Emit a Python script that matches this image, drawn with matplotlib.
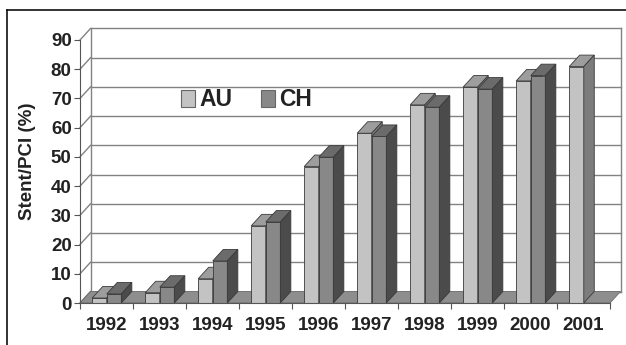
import matplotlib
matplotlib.use("Agg")
import matplotlib.pyplot as plt
from matplotlib.patches import Polygon, Patch
from matplotlib.lines import Line2D

plt.rcParams["font.family"] = ["Liberation Sans", "DejaVu Sans"]
plt.rcParams["font.weight"] = "bold"

# Share of PCI procedures with stent implantation, by year
years = ["1992", "1993", "1994", "1995", "1996", "1997", "1998", "1999", "2000", "2001"]
au = [1.7, 3.5, 8.3, 26.4, 46.7, 58.1, 67.8, 73.9, 76.0, 80.9]
ch = [3.1, 5.4, 14.4, 27.7, 49.9, 57.0, 67.0, 73.2, 77.8, None]
series_names = ["AU", "CH"]
y_ticks = [0, 10, 20, 30, 40, 50, 60, 70, 80, 90]

# face shades: (front, top, side)
shades = {
    "AU": ("#c3c3c3", "#9d9d9d", "#7c7c7c"),
    "CH": ("#888888", "#6b6b6b", "#4b4b4b"),
}
edge = "#3a3a3a"
wall_line = "#828282"
text_color = "#222222"

W, H = 626, 345
fig = plt.figure(figsize=(W / 100, H / 100), dpi=100)
fig.patch.set_facecolor("white")

# front plane of the plot box, in pixels
x0_px, x1_px = 80, 610
y0_px, y1_px = 303, 40
ax = fig.add_axes([x0_px / W, (H - y0_px) / H, (x1_px - x0_px) / W, (y0_px - y1_px) / H])
n = len(years)
ymax = y_ticks[-1]
ax.set_xlim(0, n)
ax.set_ylim(0, ymax)
ax.set_facecolor("none")

# depth offset of the 3-D box (pixels -> data units)
depth_px = (10.5, 11.5)
ddx = depth_px[0] / ((x1_px - x0_px) / n)
ddy = depth_px[1] / ((y0_px - y1_px) / ymax)

# back wall, side wall and gridlines
for v in y_ticks:
    ax.plot([ddx, n + ddx], [v + ddy, v + ddy], color=wall_line, lw=1.0, clip_on=False, zorder=1)
    ax.plot([0, ddx], [v, v + ddy], color=wall_line, lw=1.0, clip_on=False, zorder=1)
ax.plot([ddx, ddx], [ddy, ymax + ddy], color=wall_line, lw=1.0, clip_on=False, zorder=1)
ax.plot([n + ddx, n + ddx], [ddy, ymax + ddy], color=wall_line, lw=1.0, clip_on=False, zorder=1)

# floor
ax.add_patch(Polygon([(0, 0), (n, 0), (n + ddx, ddy), (ddx, ddy)], closed=True,
                     facecolor="#8e8e8e", edgecolor="#6a6a6a", lw=0.6, clip_on=False, zorder=2))

gap = 0.23
bw = 0.275


def draw_box(x, h, name, z):
    front, top, side = shades[name]
    kw = dict(closed=True, edgecolor=edge, lw=0.6, clip_on=False, zorder=z)
    ax.add_patch(Polygon([(x, 0), (x + bw, 0), (x + bw, h), (x, h)], facecolor=front, **kw))
    ax.add_patch(Polygon([(x, h), (x + bw, h), (x + bw + ddx, h + ddy), (x + ddx, h + ddy)],
                         facecolor=top, **kw))
    ax.add_patch(Polygon([(x + bw, 0), (x + bw + ddx, ddy), (x + bw + ddx, h + ddy), (x + bw, h)],
                         facecolor=side, **kw))


z = 3
for i in range(n):
    for k, vals in enumerate([au, ch]):
        if vals[i] is None:
            continue
        draw_box(i + gap + k * bw, vals[i], series_names[k], z)
        z += 1

# axes styling
for s in ["top", "right"]:
    ax.spines[s].set_visible(False)
ax.spines["left"].set_color("#555555")
ax.spines["bottom"].set_color("#555555")
ax.spines["left"].set_zorder(50)
ax.spines["bottom"].set_zorder(50)

ax.set_yticks(y_ticks)
ax.set_yticklabels([str(v) for v in y_ticks], fontsize=13.5, fontweight="bold", color=text_color)
ax.tick_params(axis="y", direction="out", length=4, width=0.8, color="#555555", pad=2)

ax.set_xticks([i + 0.5 for i in range(n)])
ax.set_xticklabels(years, fontsize=13.5, fontweight="bold", color=text_color)
ax.set_xticks(range(n + 1), minor=True)
ax.tick_params(axis="x", which="major", length=0, pad=10)
ax.tick_params(axis="x", which="minor", direction="out", length=4, width=0.8, color="#555555")

fig.text(28 / W, (H - 161) / H, "Stent/PCI (%)", rotation=90, ha="center", va="center",
         fontsize=13.5, fontweight="bold", color=text_color)

handles = [Patch(facecolor=shades[s][0], edgecolor="#666666", lw=0.8) for s in series_names]
leg = fig.legend(handles, series_names, loc="center left", bbox_to_anchor=(181 / W, (H - 100) / H),
                 ncol=2, frameon=False, fontsize=16.5, handlelength=0.6, handleheight=0.72,
                 handletextpad=0.2, columnspacing=1.25, borderpad=0, borderaxespad=0)
for t in leg.get_texts():
    t.set_fontweight("bold")
    t.set_color(text_color)

# outer frame
fig.add_artist(Line2D([7 / W, 1], [(H - 10) / H, (H - 10) / H], color="#111111", lw=1.2))
fig.add_artist(Line2D([7 / W, 7 / W], [0, (H - 10) / H], color="#111111", lw=1.2))

fig.savefig("out.png", dpi=100, facecolor="white")
